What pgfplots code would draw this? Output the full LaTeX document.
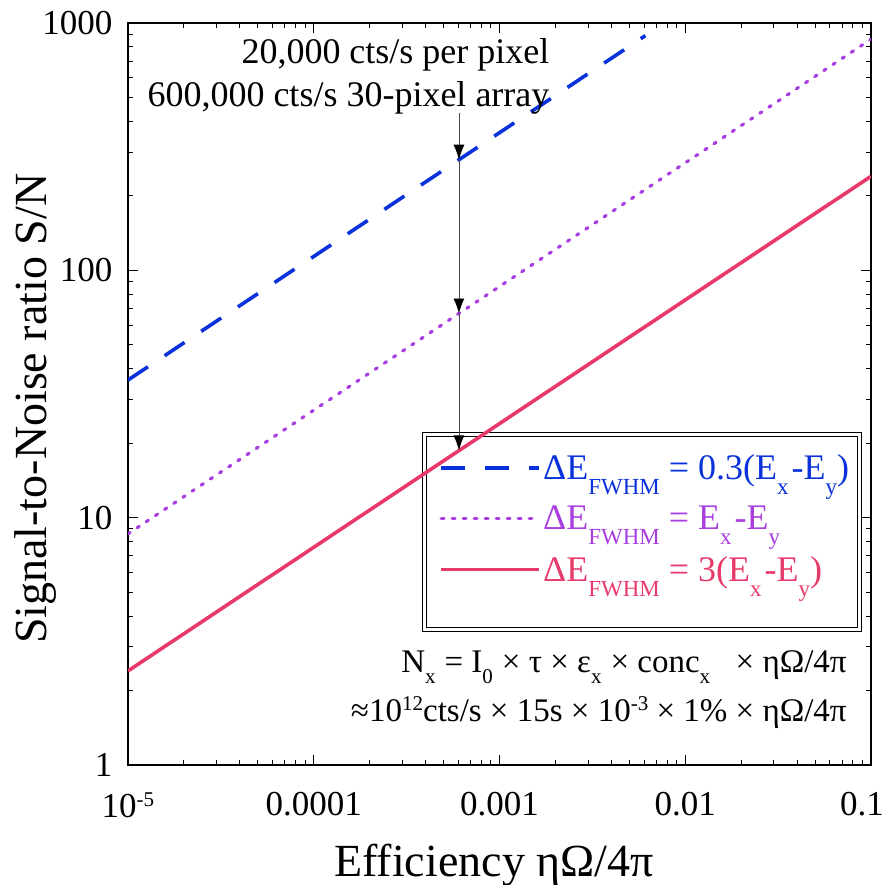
\documentclass[border=0pt]{standalone}
\usepackage{fontspec}
\setmainfont{Liberation Serif}
\usepackage{pgfplots}
\pgfplotsset{compat=1.18}
\usetikzlibrary{arrows.meta}
\definecolor{cblue}{RGB}{10,50,220}
\definecolor{cpurple}{RGB}{168,62,224}
\definecolor{cred}{RGB}{232,58,106}
\newcommand\lsub[1]{\raisebox{-15pt}{\fontsize{23}{23}\selectfont #1}}
\newcommand\fsub[1]{\raisebox{-11pt}{\fontsize{21}{21}\selectfont #1}\hspace{9pt}}
\newcommand\fsup[1]{\raisebox{11pt}{\fontsize{21}{21}\selectfont #1}}
\begin{document}
\begin{tikzpicture}
\begin{axis}[
  scale only axis, width=743pt, height=742pt,
  xmode=log, ymode=log,
  xmin=1e-5, xmax=0.1, ymin=1, ymax=1000,
  xtick={1e-5,1e-4,1e-3,1e-2,1e-1},
  xticklabels={10\fsup{-5},0.0001,0.001,0.01,0.1\rule{18pt}{0pt}},
  ytick={1,10,100,1000}, yticklabels={1,10,100,1000},
  /pgf/number format/assume math mode=true,
  tick align=inside,
  major tick length=10pt, minor tick length=5pt,
  every tick/.style={black, line width=1pt},
  axis line style={line width=1.3pt},
  ticklabel style={font=\fontsize{35}{40}\selectfont},
  xticklabel style={yshift=-24pt},
  yticklabel style={xshift=-12pt},
  xlabel={Efficiency ηΩ/4π},
  ylabel={Signal-to-Noise ratio S/N},
  every axis x label/.style={at={(axis description cs:0.4926,-0.135)}, anchor=center, font=\fontsize{46}{50}\selectfont},
  every axis y label/.style={at={(axis description cs:-0.125,0.48)}, anchor=center, rotate=90, font=\fontsize{46}{50}\selectfont},
  legend style={draw=none, fill=none, at={(rel axis cs:0.415,0.424)}, anchor=north west,
    font=\fontsize{36}{40}\selectfont, row sep=21pt},
  legend cell align=left,
  legend image code/.code={\draw[#1] (0pt,0pt) -- (90pt,0pt); \path (0pt,0pt) -- (98pt,0pt);},
]
\draw[line width=1.6pt, double, double distance=2.6pt] (rel axis cs:0.399,0.4454) rectangle (rel axis cs:0.9845,0.1826);
\addplot[cblue, line width=3.6pt, dash pattern=on 24pt off 20pt] coordinates {(1e-5,36) (1e-4,113.8) (1e-3,360) (6.1e-3,889)};
\addlegendentry{\textcolor{cblue}{ΔE\lsub{FWHM} = 0.3(E\lsub{x}\hspace{3pt}-E\lsub{y})}}
\addplot[cpurple, line width=3.2pt, line cap=round, dash pattern=on 2.5pt off 8.5pt] coordinates {(1e-5,8.6) (1e-4,27.2) (1e-3,86) (1e-2,272) (1e-1,860)};
\addlegendentry{\textcolor{cpurple}{ΔE\lsub{FWHM} = E\lsub{x}\hspace{3pt}-E\lsub{y}}}
\addplot[cred, line width=3.6pt] coordinates {(1e-5,2.4) (1e-4,7.59) (1e-3,24.0) (1e-2,75.9) (1e-1,240)};
\addlegendentry{\textcolor{cred}{ΔE\lsub{FWHM} = 3(E\lsub{x}\hspace{3pt}-E\lsub{y})}}
\draw[line width=0.9pt, black!70, -{Latex[length=15pt,width=11pt,black]}] (axis cs:6.05e-4,433) -- (axis cs:6.05e-4,280);
\draw[line width=0.9pt, black!70, -{Latex[length=15pt,width=11pt,black]}] (axis cs:6.05e-4,280) -- (axis cs:6.05e-4,66.9);
\draw[line width=0.9pt, black!70, -{Latex[length=15pt,width=11pt,black]}] (axis cs:6.05e-4,66.9) -- (axis cs:6.05e-4,18.7);
\node[anchor=base east, font=\fontsize{36}{40}\selectfont] at (rel axis cs:0.572,0.946) {20,000 cts/s per pixel};
\node[anchor=base east, font=\fontsize{36}{40}\selectfont] at (rel axis cs:0.572,0.888) {600,000 cts/s 30-pixel array};
\node[anchor=base east, font=\fontsize{33}{38}\selectfont] at (rel axis cs:0.972,0.125) {N\fsub{x}= I\fsub{0}× τ × ε\fsub{x}× conc\fsub{x}\ \ × ηΩ/4π};
\node[anchor=base east, font=\fontsize{33}{38}\selectfont] at (rel axis cs:0.972,0.058) {≈10\fsup{12}cts/s × 15s × 10\fsup{-3} × 1\% × ηΩ/4π};
\end{axis}
\pgfresetboundingbox
\path (-128pt,-120pt) rectangle (760pt,765pt);
\end{tikzpicture}
\end{document}
